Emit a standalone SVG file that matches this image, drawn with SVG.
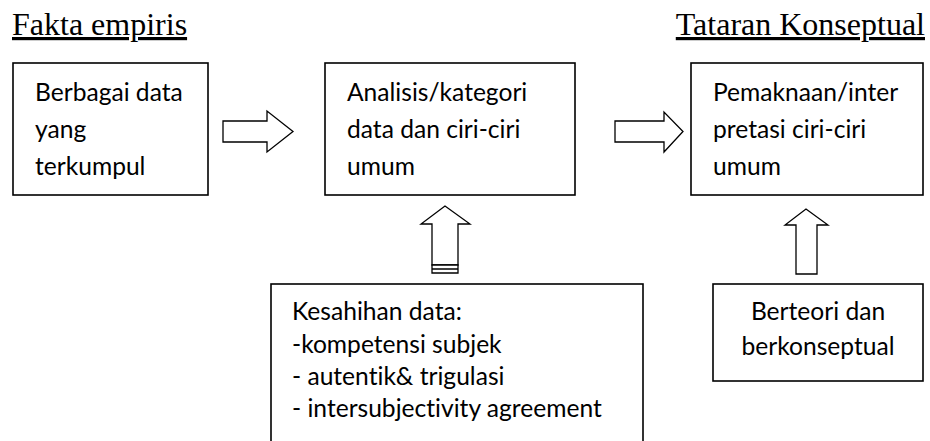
<svg xmlns="http://www.w3.org/2000/svg" width="930" height="441" viewBox="0 0 930 441">
<defs>
<style>
.box{fill:#fff;stroke:#000;stroke-width:1.6}
.arr{fill:#fff;stroke:#000;stroke-width:1.3;stroke-linejoin:miter}
.t{font-family:Lato,"Open Sans",sans-serif;font-size:24.6px;fill:#000;font-variant-ligatures:none}
.h{font-family:"Liberation Serif","Times New Roman",serif;font-size:32px;fill:#000;text-decoration:underline}
</style>
</defs>
<rect width="930" height="441" fill="#fff"/>
<g id="header-left"><text class="h" x="12" y="35">Fakta empiris</text></g>
<g id="header-right"><text class="h" x="925" y="35" text-anchor="end">Tataran Konseptual</text></g>
<g id="node-data">
<rect class="box" x="13" y="63" width="195" height="132"/>
<text class="t" x="35" y="101">Berbagai data</text>
<text class="t" x="35" y="138">yang</text>
<text class="t" x="35" y="175">terkumpul</text>
</g>
<g id="node-analisis">
<rect class="box" x="325" y="63" width="250" height="132"/>
<text class="t" x="347" y="101">Analisis/kategori</text>
<text class="t" x="347" y="138">data dan ciri-ciri</text>
<text class="t" x="347" y="175">umum</text>
</g>
<g id="node-pemaknaan">
<rect class="box" x="691" y="63" width="232" height="132"/>
<text class="t" x="713" y="101">Pemaknaan/inter</text>
<text class="t" x="713" y="138">pretasi ciri-ciri</text>
<text class="t" x="713" y="175">umum</text>
</g>
<g id="node-kesahihan">
<rect class="box" x="271" y="284" width="372" height="170"/>
<text class="t" x="292" y="320">Kesahihan data:</text>
<text class="t" x="292" y="353">-kompetensi subjek</text>
<text class="t" x="292" y="385">- autentik&amp; trigulasi</text>
<text class="t" x="292" y="417">- intersubjectivity agreement</text>
</g>
<g id="node-berteori">
<rect class="box" x="713" y="284" width="210" height="97"/>
<text class="t" x="818" y="320" text-anchor="middle">Berteori dan</text>
<text class="t" x="818" y="355" text-anchor="middle">berkonseptual</text>
</g>
<g id="connectors">
<path class="arr" d="M223,121 H267 V111 L293,131.5 L267,152 V142 H223 Z"/>
<path class="arr" d="M615,121 H664 V112 L683,131.5 L664,152 V142 H615 Z"/>
<path class="arr" d="M432,265 V224 H421 L445,206 L470,224 H458 V265 Z"/>
<path class="arr" d="M432,265 H458 V273 H432 Z M432,269 H458"/>
<path class="arr" d="M796,274 V225 H785 L806,209 L828,225 H817 V274 Z"/>
</g>
</svg>
